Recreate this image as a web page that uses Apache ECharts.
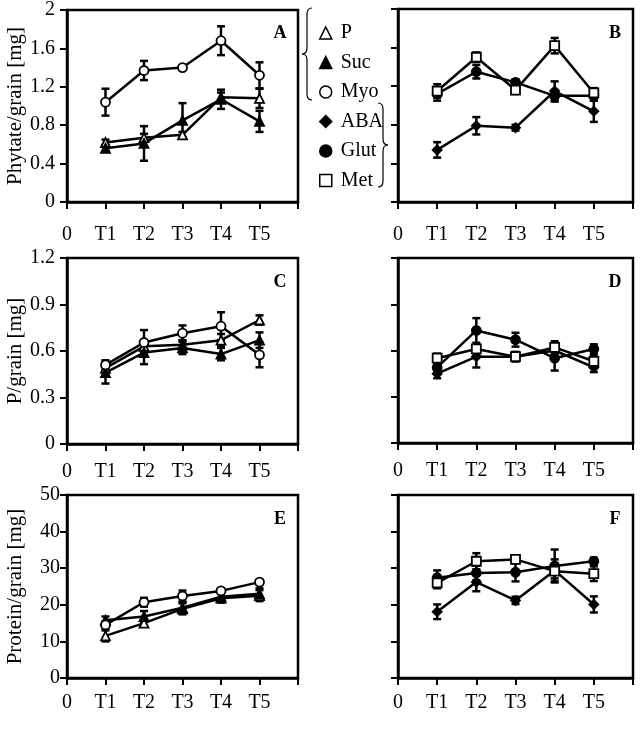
<!DOCTYPE html>
<html>
<head>
<meta charset="utf-8">
<script src="https://cdn.jsdelivr.net/npm/echarts@6/dist/echarts.min.js"></script>
<style>
  html, body { margin: 0; padding: 0; background: #fff; }
  #main { width: 640px; height: 739px; }
</style>
</head>
<body>
<div id="main"></div>
<script>
// x positions and tick labels
var xLabels = ['0', 'T1', 'T2', 'T3', 'T4', 'T5', ''];
var xPos = [1, 2, 3, 4, 5];

// A - phytate, P / Suc / Myo
var phytateP = [0.62, 0.67, 0.70, 1.09, 1.08];
var phytatePErr = [0.03, 0.04, 0.03, 0.05, 0.10];
var phytateSuc = [0.56, 0.61, 0.85, 1.07, 0.84];
var phytateSucErr = [0.03, 0.18, 0.18, 0.10, 0.11];
var phytateMyo = [1.04, 1.37, 1.40, 1.68, 1.32];
var phytateMyoErr = [0.14, 0.10, 0.01, 0.15, 0.135];

// B - phytate, ABA / Glut / Met
var phytateABA = [0.54, 0.79, 0.77, 1.15, 0.94];
var phytateABAErr = [0.08, 0.09, 0.03, 0.10, 0.11];
var phytateGlut = [1.12, 1.35, 1.24, 1.10, 1.10];
var phytateGlutErr = [0.07, 0.07, 0.03, 0.06, 0.05];
var phytateMet = [1.15, 1.50, 1.16, 1.62, 1.13];
var phytateMetErr = [0.07, 0.05, 0.04, 0.08, 0.05];

// C - P/grain, P / Suc / Myo
var pP = [0.49, 0.63, 0.64, 0.67, 0.80];
var pPErr = [0.04, 0.04, 0.03, 0.04, 0.03];
var pSuc = [0.46, 0.59, 0.62, 0.58, 0.67];
var pSucErr = [0.07, 0.075, 0.04, 0.04, 0.05];
var pMyo = [0.51, 0.655, 0.715, 0.76, 0.575];
var pMyoErr = [0.03, 0.08, 0.05, 0.09, 0.08];

// D - P/grain, ABA / Glut / Met
var pABA = [0.45, 0.56, 0.56, 0.60, 0.49];
var pABAErr = [0.03, 0.07, 0.03, 0.03, 0.03];
var pGlut = [0.49, 0.73, 0.67, 0.55, 0.61];
var pGlutErr = [0.03, 0.08, 0.045, 0.08, 0.03];
var pMet = [0.55, 0.61, 0.56, 0.62, 0.53];
var pMetErr = [0.03, 0.03, 0.03, 0.04, 0.04];

// E - protein, P / Suc / Myo
var proteinP = [11.5, 15.0, 18.9, 21.8, 22.5];
var proteinPErr = [1.5, 0.8, 1.5, 1.2, 1.5];
var proteinSuc = [15.8, 16.8, 19.2, 22.2, 23.0];
var proteinSucErr = [1.0, 1.5, 1.5, 1.0, 1.5];
var proteinMyo = [14.5, 20.7, 22.4, 23.8, 26.2];
var proteinMyoErr = [1.0, 1.2, 1.5, 0.7, 0.6];

// F - protein, ABA / Glut / Met
var proteinABA = [18.1, 26.2, 21.2, 29.4, 20.1];
var proteinABAErr = [2.0, 2.5, 1.0, 3.0, 2.2];
var proteinGlut = [27.4, 28.7, 28.9, 30.6, 31.9];
var proteinGlutErr = [2.0, 2.0, 2.5, 4.5, 1.0];
var proteinMet = [26.0, 31.9, 32.4, 29.2, 28.5];
var proteinMetErr = [1.5, 2.2, 1.0, 2.0, 2.0];

var FONT = 'Liberation Serif';

// symbol look for each treatment
var marks = {
    'P': {symbol: 'triangle', fill: '#fff'},
    'Suc': {symbol: 'triangle', fill: '#000'},
    'Myo': {symbol: 'circle', fill: '#fff'},
    'ABA': {symbol: 'diamond', fill: '#000'},
    'Glut': {symbol: 'circle', fill: '#000'},
    'Met': {symbol: 'rect', fill: '#fff'}
};

var panels = [
    {letter: 'A', left: 67, top: 9, width: 231, height: 193, max: 2, interval: 0.4, labels: true,
        name: 'Phytate/grain [mg]', xMargin: 23, yMargin: 12,
        sets: [['P', phytateP, phytatePErr], ['Suc', phytateSuc, phytateSucErr], ['Myo', phytateMyo, phytateMyoErr]]},
    {letter: 'B', left: 398, top: 9, width: 235, height: 193, max: 2, interval: 0.4, labels: false,
        name: '', xMargin: 23, yMargin: 12,
        sets: [['ABA', phytateABA, phytateABAErr], ['Glut', phytateGlut, phytateGlutErr], ['Met', phytateMet, phytateMetErr]]},
    {letter: 'C', left: 67, top: 258, width: 231, height: 186, max: 1.2, interval: 0.3, labels: true,
        name: 'P/grain [mg]', xMargin: 18, yMargin: 12,
        sets: [['P', pP, pPErr], ['Suc', pSuc, pSucErr], ['Myo', pMyo, pMyoErr]]},
    {letter: 'D', left: 398, top: 258, width: 235, height: 185, max: 1.2, interval: 0.3, labels: false,
        name: '', xMargin: 18, yMargin: 12,
        sets: [['ABA', pABA, pABAErr], ['Glut', pGlut, pGlutErr], ['Met', pMet, pMetErr]]},
    {letter: 'E', left: 67, top: 495, width: 231, height: 183, max: 50, interval: 10, labels: true,
        name: 'Protein/grain [mg]', xMargin: 15, yMargin: 7,
        sets: [['P', proteinP, proteinPErr], ['Suc', proteinSuc, proteinSucErr], ['Myo', proteinMyo, proteinMyoErr]]},
    {letter: 'F', left: 398, top: 495, width: 235, height: 183, max: 50, interval: 10, labels: false,
        name: '', xMargin: 15, yMargin: 7,
        sets: [['ABA', proteinABA, proteinABAErr], ['Glut', proteinGlut, proteinGlutErr], ['Met', proteinMet, proteinMetErr]]}
];

// vertical error bar with caps
function errorBar(params, api) {
    var x = api.value(0), y = api.value(1), e = api.value(2);
    var hi = api.coord([x, y + e]);
    var lo = api.coord([x, y - e]);
    var cap = 4;
    var style = {stroke: '#000', lineWidth: 2.5};
    return {
        type: 'group',
        children: [
            {type: 'line', shape: {x1: hi[0], y1: hi[1], x2: lo[0], y2: lo[1]}, style: style},
            {type: 'line', shape: {x1: hi[0] - cap, y1: hi[1], x2: hi[0] + cap, y2: hi[1]}, style: style},
            {type: 'line', shape: {x1: lo[0] - cap, y1: lo[1], x2: lo[0] + cap, y2: lo[1]}, style: style}
        ]
    };
}

var grid = [], xAxis = [], yAxis = [], series = [], graphic = [];

panels.forEach(function (p, i) {
    grid.push({
        left: p.left, top: p.top, width: p.width, height: p.height,
        show: true, borderColor: '#000', borderWidth: 2.5, backgroundColor: 'transparent'
    });
    xAxis.push({
        gridIndex: i, type: 'value', min: 0, max: 6, interval: 1,
        axisLine: {lineStyle: {color: '#000', width: 2.5}},
        axisTick: {length: 7, lineStyle: {color: '#000', width: 2}},
        splitLine: {show: false},
        axisLabel: {
            margin: p.xMargin, color: '#000', fontFamily: FONT, fontSize: 20,
            showMaxLabel: true,
            formatter: function (v) { return xLabels[Math.round(v)]; }
        }
    });
    yAxis.push({
        gridIndex: i, type: 'value', min: 0, max: p.max, interval: p.interval,
        name: p.name, nameLocation: 'middle', nameGap: 41, nameRotate: 90,
        nameTextStyle: {color: '#000', fontFamily: FONT, fontSize: 21},
        axisLine: {lineStyle: {color: '#000', width: 2.5}},
        axisTick: {length: 7, lineStyle: {color: '#000', width: 2}},
        splitLine: {show: false},
        axisLabel: {
            show: p.labels, margin: p.yMargin, color: '#000', fontFamily: FONT, fontSize: 20,
            formatter: function (v) { return String(parseFloat(v.toFixed(2))); }
        }
    });
    p.sets.forEach(function (s) {
        var name = s[0], vals = s[1], errs = s[2];
        series.push({
            type: 'custom', name: name, xAxisIndex: i, yAxisIndex: i, z: 1,
            renderItem: errorBar, silent: true,
            data: xPos.map(function (x, k) { return [x, vals[k], errs[k]]; })
        });
    });
    p.sets.forEach(function (s) {
        var name = s[0], vals = s[1];
        series.push({
            type: 'line', name: name, xAxisIndex: i, yAxisIndex: i, z: 3,
            symbol: marks[name].symbol, symbolSize: 9,
            lineStyle: {color: '#000', width: 2.5},
            itemStyle: {color: marks[name].fill, borderColor: '#000', borderWidth: 1.8},
            data: xPos.map(function (x, k) { return [x, vals[k]]; })
        });
    });
    graphic.push({
        type: 'text', x: p.left + p.width - 18, y: p.top + 24,
        style: {text: p.letter, fontFamily: FONT, fontWeight: 'bold', fontSize: 18,
            fill: '#000', align: 'center', verticalAlign: 'middle'}
    });
});

// curly brace built from lines and quadratic curves; dir = -1 tip left, +1 tip right
function brace(xEdge, dir, yTop, yBot) {
    var xMid = xEdge + dir * 5, xTip = xEdge + dir * 10, yMid = (yTop + yBot) / 2, r = 6;
    var st = {stroke: '#000', lineWidth: 1.2, fill: 'none'};
    return [
        {type: 'bezierCurve', shape: {x1: xEdge, y1: yTop, cpx1: xMid, cpy1: yTop, x2: xMid, y2: yTop + r}, style: st},
        {type: 'line', shape: {x1: xMid, y1: yTop + r, x2: xMid, y2: yMid - r}, style: st},
        {type: 'bezierCurve', shape: {x1: xMid, y1: yMid - r, cpx1: xMid, cpy1: yMid, x2: xTip, y2: yMid}, style: st},
        {type: 'bezierCurve', shape: {x1: xTip, y1: yMid, cpx1: xMid, cpy1: yMid, x2: xMid, y2: yMid + r}, style: st},
        {type: 'line', shape: {x1: xMid, y1: yMid + r, x2: xMid, y2: yBot - r}, style: st},
        {type: 'bezierCurve', shape: {x1: xMid, y1: yBot - r, cpx1: xMid, cpy1: yBot, x2: xEdge, y2: yBot}, style: st}
    ];
}
graphic = graphic.concat(brace(312, -1, 8, 100), brace(378, 1, 103, 187));

var legendNames = ['P', 'Suc', 'Myo', 'ABA', 'Glut', 'Met'];

var option = {
    animation: false,
    backgroundColor: '#fff',
    legend: {
        orient: 'vertical', left: 314, top: 18, itemWidth: 12, itemHeight: 12, itemGap: 9.5,
        textStyle: {color: '#000', fontFamily: FONT, fontSize: 20, padding: [0, 0, 0, 4]},
        selectedMode: false,
        data: legendNames.map(function (n) {
            return {name: n, icon: marks[n].symbol,
                itemStyle: {color: marks[n].fill, borderColor: '#000', borderWidth: 1.5}};
        })
    },
    grid: grid,
    xAxis: xAxis,
    yAxis: yAxis,
    series: series,
    graphic: graphic
};

var myChart = echarts.init(document.getElementById('main'));
myChart.setOption(option);
</script>
</body>
</html>
